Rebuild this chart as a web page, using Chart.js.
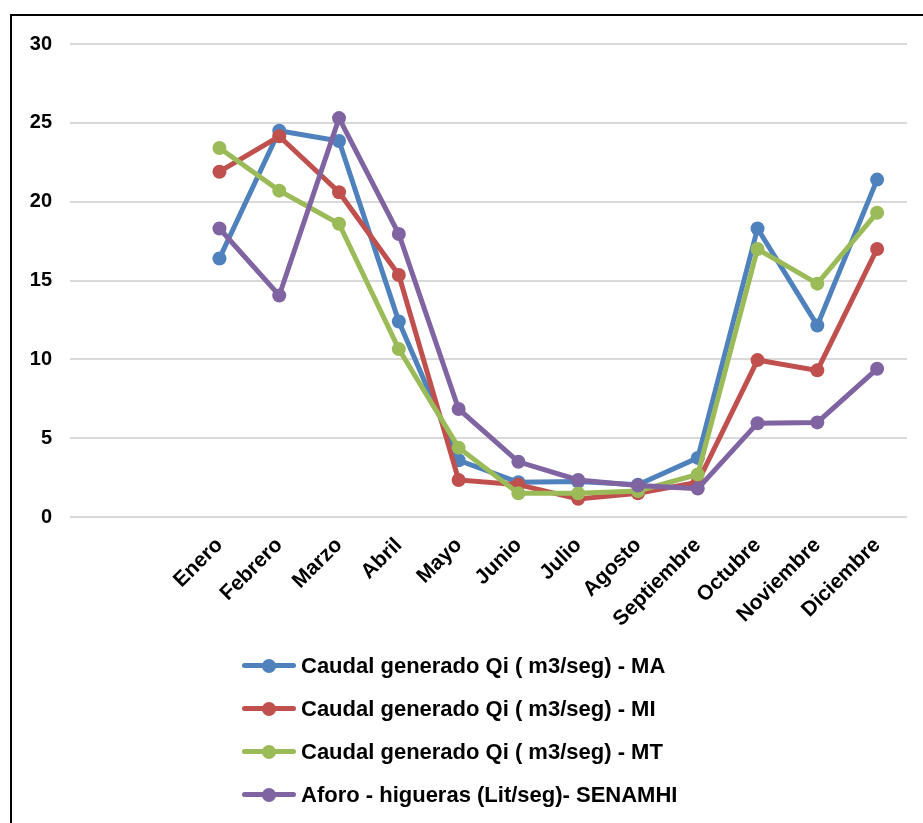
<!DOCTYPE html>
<html>
<head>
<meta charset="utf-8">
<script src="https://cdn.jsdelivr.net/npm/chart.js@4/dist/chart.umd.min.js"></script>
<style>
  html, body { margin: 0; padding: 0; background: #fff; }
  body { width: 923px; height: 823px; position: relative; overflow: hidden; font-family: "Liberation Sans", Arial, sans-serif; }
  #frame { position: absolute; left: 10px; top: 14px; width: 940px; height: 840px; border-left: 2.5px solid #000; border-top: 2.5px solid #000; box-sizing: border-box; }
  #chart { position: absolute; left: 0; top: 0; }
  #legend { position: absolute; left: 242px; top: 644px; }
  .item { position: relative; height: 43px; display: flex; align-items: center; }
  .swatch { position: relative; width: 54px; height: 14px; margin-right: 5px; }
  .swatch .ln { position: absolute; left: 0; right: 0; top: 4.5px; height: 5px; border-radius: 2.5px; }
  .swatch .dot { position: absolute; left: 20px; top: 0; width: 14px; height: 14px; border-radius: 50%; }
  .txt { font-weight: bold; font-size: 22px; color: #000; white-space: nowrap; }
</style>
</head>
<body>
<div id="frame"></div>
<canvas id="chart" width="923" height="823"></canvas>
<div id="legend"></div>
<script>
// Month categories; two blank slots precede Enero on the category axis
const months = ['', '', 'Enero', 'Febrero', 'Marzo', 'Abril', 'Mayo', 'Junio', 'Julio',
  'Agosto', 'Septiembre', 'Octubre', 'Noviembre', 'Diciembre'];

const seriesNames = [
  'Caudal generado Qi ( m3/seg) - MA',
  'Caudal generado Qi ( m3/seg) - MI',
  'Caudal generado Qi ( m3/seg) - MT',
  'Aforo - higueras (Lit/seg)- SENAMHI'
];

const caudalMA = [null, null, 16.4, 24.5, 23.85, 12.4, 3.6, 2.2, 2.25, 2.05, 3.75, 18.3, 12.15, 21.4];
const caudalMI = [null, null, 21.9, 24.15, 20.6, 15.35, 2.35, 2.05, 1.15, 1.5, 2.2, 9.95, 9.3, 17.0];
const caudalMT = [null, null, 23.4, 20.7, 18.6, 10.65, 4.4, 1.5, 1.5, 1.65, 2.7, 17.0, 14.8, 19.3];
const aforoSenamhi = [null, null, 18.3, 14.05, 25.3, 17.95, 6.85, 3.5, 2.35, 2.0, 1.8, 5.95, 6.0, 9.4];

const yTicks = [0, 5, 10, 15, 20, 25, 30];

const colors = ['#4f81bd', '#c0504d', '#9bbb59', '#8064a2'];
const seriesValues = [caudalMA, caudalMI, caudalMT, aforoSenamhi];

const datasets = seriesValues.map((vals, i) => ({
  label: seriesNames[i],
  data: vals,
  borderColor: colors[i],
  backgroundColor: colors[i],
  pointBackgroundColor: colors[i],
  pointBorderColor: colors[i],
  borderWidth: 5,
  pointRadius: 7,
  pointBorderWidth: 0,
  tension: 0,
  spanGaps: false,
  // later series sit on top of earlier ones
  order: seriesValues.length - i
}));

const family = '"Liberation Sans", Arial, sans-serif';

const chart = new Chart(document.getElementById('chart'), {
  type: 'line',
  data: { labels: months, datasets },
  options: {
    responsive: false,
    animation: false,
    devicePixelRatio: 1,
    layout: { padding: { top: 44, right: 16, left: 0, bottom: 196 } },
    plugins: { legend: { display: false }, tooltip: { enabled: false } },
    scales: {
      x: {
        offset: true,
        grid: { display: false },
        border: { display: false },
        ticks: { autoSkip: false, minRotation: 45, maxRotation: 45, font: { family, size: 21, weight: 'bold' }, color: '#000', padding: 8 },
        afterFit: s => { s.height = 110; }
      },
      y: {
        min: 0,
        max: 30,
        afterBuildTicks: s => { s.ticks = yTicks.map(v => ({ value: v })); },
        grid: { color: '#d9d9d9', lineWidth: 2, drawTicks: false },
        border: { display: false },
        ticks: { font: { family, size: 20, weight: 'bold' }, color: '#000', padding: 18 },
        afterFit: s => { s.width = 70; }
      }
    }
  }
});

// Legend built from the chart's own datasets, one entry per row
const legend = document.getElementById('legend');
chart.data.datasets.forEach(ds => {
  const item = document.createElement('div');
  item.className = 'item';
  item.innerHTML = '<div class="swatch"><div class="ln"></div><div class="dot"></div></div><span class="txt"></span>';
  item.querySelector('.ln').style.background = ds.borderColor;
  item.querySelector('.dot').style.background = ds.borderColor;
  item.querySelector('.txt').textContent = ds.label;
  legend.appendChild(item);
});
</script>
</body>
</html>
